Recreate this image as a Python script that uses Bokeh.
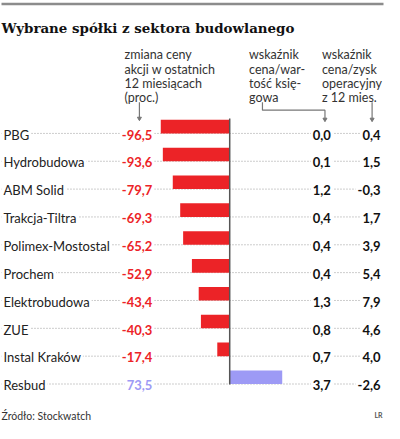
from bokeh.plotting import figure
from bokeh.models import Range1d
from bokeh.core.properties import value
from bokeh.embed import file_html
from bokeh.resources import INLINE

# ---------------- data ----------------
title = "Wybrane spółki z sektora budowlanego"
companies = ["PBG", "Hydrobudowa", "ABM Solid", "Trakcja-Tiltra", "Polimex-Mostostal",
             "Prochem", "Elektrobudowa", "ZUE", "Instal Kraków", "Resbud"]
price_change = [-96.5, -93.6, -79.7, -69.3, -65.2, -52.9, -43.4, -40.3, -17.4, 73.5]
pbv = [0.0, 0.1, 1.2, 0.4, 0.4, 0.4, 1.3, 0.8, 0.7, 3.7]
pe = [0.4, 1.5, -0.3, 1.7, 3.9, 5.4, 7.9, 4.6, 4.0, -2.6]
header1 = ["zmiana ceny", "akcji w ostatnich", "12 miesiącach", "(proc.)"]
header2 = ["wskaźnik", "cena/war-", "tość księ-", "gowa"]
header3 = ["wskaźnik", "cena/zysk", "operacyjny", "z 12 mies."]
source = "Źródło: Stockwatch"
author = "LR"

# ---------------- styles / layout (reference pixel space) ----------------
RED = "#ec2327"
LAV = "#9d9af5"
DARK = "#222222"
ZERO_X = 233.0        # position of the zero line
PX_PER_PCT = 0.72     # bar scale
ROW0 = 131.0          # centre of first bar
ROW_STEP = 28.7
BAR_H = 14.0
X0, X1 = 2.0, 389.0
Y0, Y1 = 1.0, 437.0

fmt = lambda v: ("%.1f" % v).replace(".", ",")

p = figure(width=384, height=423, output_backend="svg", toolbar_location=None,
           x_range=Range1d(X0, X1), y_range=Range1d(Y1, Y0),
           min_border=0, outline_line_color=None, background_fill_color="white")
p.axis.visible = False
p.grid.visible = False

# bar scale: percent units
p.extra_x_ranges = {"pct": Range1d((X0 - ZERO_X) / PX_PER_PCT, (X1 - ZERO_X) / PX_PER_PCT)}
# row index scale
p.extra_y_ranges = {"rows": Range1d((Y1 - ROW0) / ROW_STEP, (Y0 - ROW0) / ROW_STEP)}

idx = list(range(len(companies)))
half = BAR_H / ROW_STEP / 2

# top rule and title
p.segment(x0=[3], x1=[388], y0=[4.5], y1=[4.5], line_color="#8c8c8c", line_width=2.5)
p.text(x=[3], y=[29], text=[title], text_font=value("DejaVu Serif"), text_font_style="bold",
       text_font_size="13.4px", text_color="#111111", text_baseline="alphabetic")

# headers
hy = [57, 72, 86.5, 101]
for hx, lines in ((127, header1), (252.5, header2), (326, header3)):
    p.text(x=[hx] * len(lines), y=hy, text=lines, text_font=value("Lato"),
           text_font_size="12.5px", text_color="#333333", text_baseline="alphabetic")

# connectors
p.line(x=[142, 142], y=[106, 122], line_color="#777777", line_width=1.2)
p.line(x=[266, 266, 329, 329], y=[106, 114, 114, 123], line_color="#777777", line_width=1.2)
p.line(x=[376.5, 376.5], y=[106, 123], line_color="#777777", line_width=1.2)
p.scatter(x=[142, 329, 376.5], y=[122.5, 123.5, 123.5], marker="inverted_triangle",
          size=4, color="#777777")

# dotted leaders
p.segment(x0=[3] * len(idx), x1=[387] * len(idx), y0=[i + half for i in idx],
          y1=[i + half for i in idx], y_range_name="rows",
          line_color="#9a9a9a", line_width=1, line_dash="1 2")

# bars
colors = [RED if v < 0 else LAV for v in price_change]
p.hbar(y=idx, left=0, right=price_change, height=2 * half, fill_color=colors,
       line_color=None, x_range_name="pct", y_range_name="rows")

# zero line
p.segment(x0=[0], x1=[0], y0=[-half - 0.05], y1=[9 + half + 0.02], x_range_name="pct",
          y_range_name="rows", line_color="#555555", line_width=1.5)

# labels
common = dict(y_range_name="rows", text_baseline="alphabetic", y_offset=8,
              background_fill_color="white", padding=2)
p.text(x=[3] * len(idx), y=idx, text=companies, text_font=value("Lato"),
       text_font_size="13px", text_color=DARK, text_align="left", **common)
p.text(x=[157] * len(idx), y=idx, text=[fmt(v) for v in price_change], text_font=value("Lato"),
       text_font_style="bold", text_font_size="13px", text_color=colors, text_align="right", **common)
p.text(x=[337] * len(idx), y=idx, text=[fmt(v) for v in pbv], text_font=value("Lato"),
       text_font_style="bold", text_font_size="13px", text_color="#111111", text_align="right", **common)
p.text(x=[387] * len(idx), y=idx, text=[fmt(v) for v in pe], text_font=value("Lato"),
       text_font_style="bold", text_font_size="13px", text_color="#111111", text_align="right", **common)

# footer
p.text(x=[3], y=[429], text=[source], text_font=value("Lato"), text_font_size="10.5px",
       text_color="#333333", text_baseline="alphabetic")
p.text(x=[387], y=[428], text=[author], text_font=value("Lato"), text_font_style="bold",
       text_font_size="7px", text_color="#555555", text_baseline="alphabetic", text_align="right")

open("out.html", "w").write(file_html(p, INLINE))
